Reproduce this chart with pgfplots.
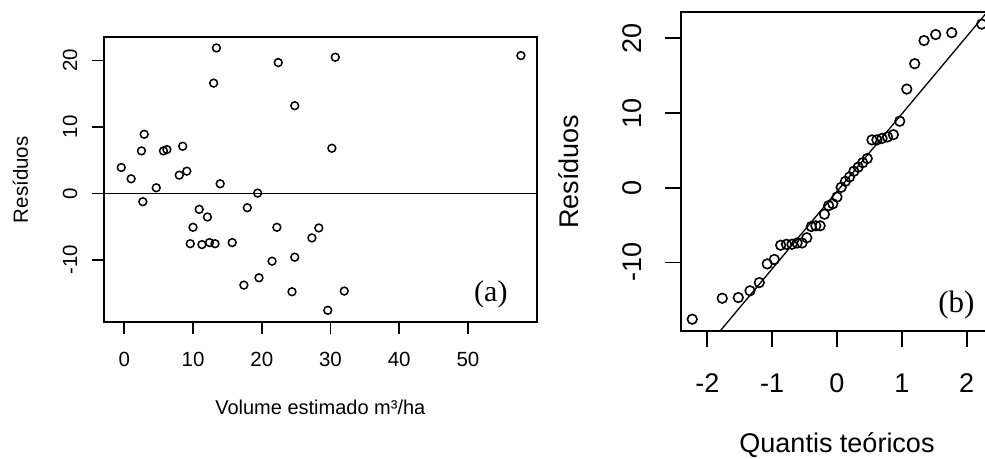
\documentclass[border=0pt]{standalone}
\usepackage{fontspec}
\setmainfont{Liberation Sans}
\newfontfamily\timesfont{Liberation Serif}
\usepackage{pgfplots}
\pgfplotsset{compat=1.18}

% residuals vs fitted volume
\pgfplotstableread{
x y
-0.44 3.9
1.0 2.2
2.5 6.4
2.9 8.9
2.7 -1.25
4.65 0.85
5.7 6.4
6.2 6.6
8.0 2.75
8.5 7.1
9.1 3.35
13.4 21.9
13.0 16.6
13.95 1.45
10.9 -2.4
12.1 -3.55
10.0 -5.1
17.9 -2.15
19.4 0.05
22.4 19.7
24.8 13.2
22.2 -5.1
28.3 -5.2
27.3 -6.7
9.6 -7.57
11.3 -7.7
12.4 -7.4
13.2 -7.57
15.7 -7.4
24.8 -9.6
21.5 -10.2
19.6 -12.7
17.4 -13.8
24.4 -14.8
29.6 -17.6
30.7 20.5
57.7 20.75
30.2 6.8
32.0 -14.7
}\resid

% normal QQ
\pgfplotstableread{
q r
-2.232 -17.6
-1.769 -14.8
-1.522 -14.7
-1.342 -13.8
-1.198 -12.7
-1.076 -10.2
-0.967 -9.6
-0.869 -7.7
-0.779 -7.57
-0.695 -7.57
-0.615 -7.4
-0.539 -7.4
-0.466 -6.7
-0.396 -5.2
-0.327 -5.1
-0.260 -5.1
-0.194 -3.55
-0.129 -2.4
-0.064 -2.15
0.000 -1.25
0.064 0.05
0.129 0.85
0.194 1.45
0.260 2.2
0.327 2.75
0.396 3.35
0.466 3.9
0.539 6.4
0.615 6.4
0.695 6.6
0.779 6.8
0.869 7.1
0.967 8.9
1.076 13.2
1.198 16.6
1.342 19.7
1.522 20.5
1.769 20.75
2.232 21.9
}\qq

\pgfplotsset{
  rplot/.style={
    scale only axis,
    axis line style={line width=1.8bp},
    tick style={line width=1.8bp, black},
    tick align=outside,
    xtick pos=bottom, ytick pos=left,
    /pgf/number format/assume math mode=true,
  }
}

\begin{document}
\begin{tikzpicture}
\begin{axis}[rplot,
  at={(104bp,136.7bp)}, anchor=south west,
  width=432.7bp, height=285bp,
  xmin=-2.95, xmax=60.0, ymin=-19.4, ymax=23.5,
  xtick={0,10,20,30,40,50}, ytick={-10,0,10,20},
  major tick length=12bp,
  tick label style={font=\fontsize{20.5bp}{24bp}\selectfont},
  xticklabel style={anchor=center, yshift=-25bp},
  yticklabel style={xshift=-22bp, rotate=90, anchor=center},
  every axis x label/.style={at={(axis description cs:0.5,-0.30)}, anchor=center, font=\fontsize{20bp}{24bp}\selectfont},
  every axis y label/.style={at={(axis description cs:-0.193,0.5)}, rotate=90, anchor=center, font=\fontsize{20.5bp}{24bp}\selectfont},
  xlabel={Volume estimado m³/ha},
  ylabel={Resíduos},
]
\addplot[black, line width=1.4bp] coordinates {(-10,0) (70,0)};
\addplot[only marks, mark=o, mark size=3.9bp, mark options={line width=1.5bp, black}] table[x=x, y=y] {\resid};
\node[font=\timesfont\fontsize{30bp}{36bp}\selectfont] at (axis description cs:0.894,0.0975) {(a)};
\end{axis}

\begin{axis}[rplot,
  at={(680.7bp,128bp)}, anchor=south west,
  width=312.6bp, height=318.7bp,
  xmin=-2.41, xmax=2.41, ymin=-19.18, ymax=23.48,
  xtick={-2,-1,0,1,2}, ytick={-10,0,10,20},
  major tick length=16bp,
  tick label style={font=\fontsize{27bp}{32bp}\selectfont},
  xticklabel style={anchor=center, yshift=-36bp},
  yticklabel style={xshift=-33bp, rotate=90, anchor=center},
  every axis x label/.style={at={(axis description cs:0.5,-0.3577)}, anchor=center, font=\fontsize{27bp}{32bp}\selectfont},
  every axis y label/.style={at={(axis description cs:-0.3573,0.5)}, rotate=90, anchor=center, font=\fontsize{27bp}{32bp}\selectfont},
  xlabel={Quantis teóricos},
  ylabel={Resíduos},
]
\addplot[black, line width=1.3bp] coordinates {(-3,-31.6) (3,30.62)};
\addplot[only marks, mark=o, mark size=4.8bp, mark options={line width=1.6bp, black}] table[x=q, y=r] {\qq};
\node[font=\timesfont\fontsize{31bp}{37bp}\selectfont] at (axis description cs:0.882,0.0816) {(b)};
\end{axis}
\pgfresetboundingbox
\path[use as bounding box] (0,0) rectangle (985bp,459bp);
\end{tikzpicture}
\end{document}
